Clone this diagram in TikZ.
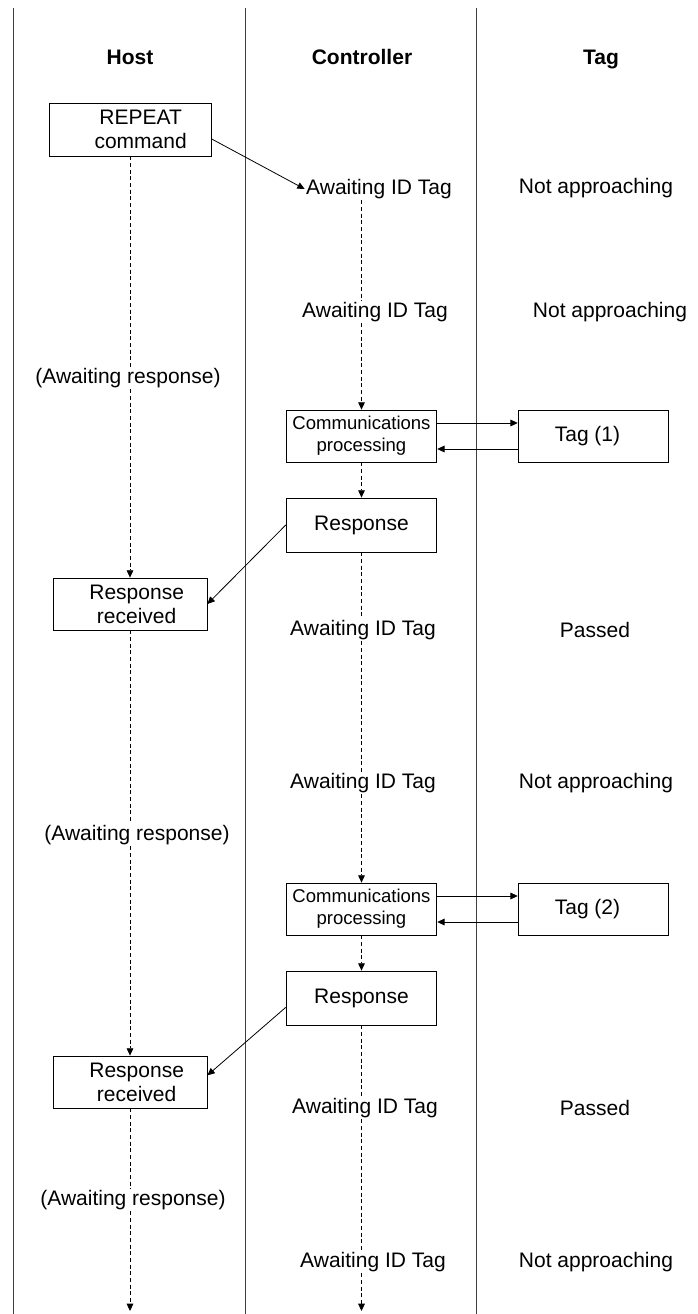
\documentclass[tikz,border=0pt]{standalone}
\usepackage{fontspec}
\setmainfont{Liberation Sans}
\usetikzlibrary{arrows.meta,calc}

\begin{document}
\begin{tikzpicture}[x=0.75pt, y=-0.75pt, >={Triangle[length=5.5pt,width=5pt]},
      font=\fontsize{15.75}{18}\selectfont,
      lane/.style={draw=black!75, line width=0.6pt},
      hd/.style={font=\fontsize{15.75}{18}\selectfont\bfseries, anchor=base},
      st/.style={inner sep=1pt},
      bx/.style={draw, line width=0.6pt, minimum width=113pt, minimum height=39pt, align=center, inner sep=0pt},
      sm/.style={font=\fontsize{13.9}{16.5}\selectfont},
      flow/.style={line width=0.6pt, dash pattern=on 3pt off 2pt},
      msg/.style={->, line width=0.6pt}]
      \useasboundingbox (0,0) rectangle (698,1314);
      % swim lanes
      \foreach \x in {13,245,476} \draw[lane] (\x,8) -- (\x,1314);
      \node[hd] (hHost) at (130,64.5) {Host};
      \node[hd] (hCtrl) at (362,64.5) {Controller};
      \node[hd] (hTag) at (601,64.5) {Tag};
      % host
      \node[bx, minimum width=121.5pt, minimum height=39.75pt] (rep) at (130,129.5) {\hspace*{16pt}REPEAT\\\hspace*{16pt}command};
      \node[st] (ar1) at (128,378) {(Awaiting response)};
      \node[bx, minimum width=115.5pt] (rr1) at (130,604) {\hspace*{10pt}Response\\\hspace*{10pt}received};
      \node[st] (ar2) at (137,835) {(Awaiting response)};
      \node[bx, minimum width=115.5pt] (rr2) at (130,1082) {\hspace*{10pt}Response\\\hspace*{10pt}received};
      \node[st] (ar3) at (133,1200) {(Awaiting response)};
      \coordinate (hEnd) at (130,1311);
      % controller
      \node[st] (aw1) at (379,189) {Awaiting ID Tag};
      \node[st] (aw2) at (375,312) {Awaiting ID Tag};
      \node[bx, sm] (com1) at (361.5,436) {Communications\\processing};
      \node[bx, minimum height=40.5pt] (rsp1) at (361.5,525) {Response};
      \node[st] (aw3) at (363,630) {Awaiting ID Tag};
      \node[st] (aw4) at (363,783) {Awaiting ID Tag};
      \node[bx, sm] (com2) at (361.5,909) {Communications\\processing};
      \node[bx, minimum height=40.5pt] (rsp2) at (361.5,998) {Response};
      \node[st] (aw5) at (365,1108) {Awaiting ID Tag};
      \node[st] (aw6) at (373,1262) {Awaiting ID Tag};
      \coordinate (cEnd) at (361.5,1311);
      % tag
      \node[st] (tg1) at (596,188) {Not approaching};
      \node[st] (tg2) at (610,312) {Not approaching};
      \node[bx] (tag1) at (593.5,436) {Tag (1)\hspace*{9pt}};
      \node[st] (tg3) at (595,630) {Passed};
      \node[st] (tg4) at (596,783) {Not approaching};
      \node[bx] (tag2) at (593.5,909) {Tag (2)\hspace*{9pt}};
      \node[st] (tg5) at (595,1108) {Passed};
      \node[st] (tg6) at (596,1262) {Not approaching};
      % host timeline
      \draw[flow] (rep.south) -- (rep.south |- ar1.north);
      \draw[flow,->] (rep.south |- ar1.south) -- (rr1.north);
      \draw[flow] (rr1.south) -- (rr1.south |- ar2.north);
      \draw[flow,->] (rr1.south |- ar2.south) -- (rr2.north);
      \draw[flow] (rr2.south) -- (rr2.south |- ar3.north);
      \draw[flow,->] (rr2.south |- ar3.south) -- (hEnd);
      % controller timeline
      \draw[flow] (com1.north |- aw1.south) -- (com1.north |- aw2.north);
      \draw[flow,->] (com1.north |- aw2.south) -- (com1.north);
      \draw[flow,->] (com1.south) -- (rsp1.north);
      \draw[flow] (rsp1.south) -- (rsp1.south |- aw3.north);
      \draw[flow] (rsp1.south |- aw3.south) -- (rsp1.south |- aw4.north);
      \draw[flow,->] (rsp1.south |- aw4.south) -- (com2.north);
      \draw[flow,->] (com2.south) -- (rsp2.north);
      \draw[flow] (rsp2.south) -- (rsp2.south |- aw5.north);
      \draw[flow] (rsp2.south |- aw5.south) -- (rsp2.south |- aw6.north);
      \draw[flow,->] (rsp2.south |- aw6.south) -- (cEnd);
      % messages
      \draw[msg] ([yshift=-7pt]rep.east) -- (aw1.west);
      \draw[msg] ([yshift=9.75pt]com1.east) -- ([yshift=9.75pt]tag1.west);
      \draw[msg] ([yshift=-9.75pt]tag1.west) -- ([yshift=-9.75pt]com1.east);
      \draw[msg] (rsp1.west) -- (rr1.east);
      \draw[msg] ([yshift=9.75pt]com2.east) -- ([yshift=9.75pt]tag2.west);
      \draw[msg] ([yshift=-9.75pt]tag2.west) -- ([yshift=-9.75pt]com2.east);
      \draw[msg] ([yshift=-7pt]rsp2.west) -- ([yshift=5pt]rr2.east);
    \end{tikzpicture}
\end{document}
